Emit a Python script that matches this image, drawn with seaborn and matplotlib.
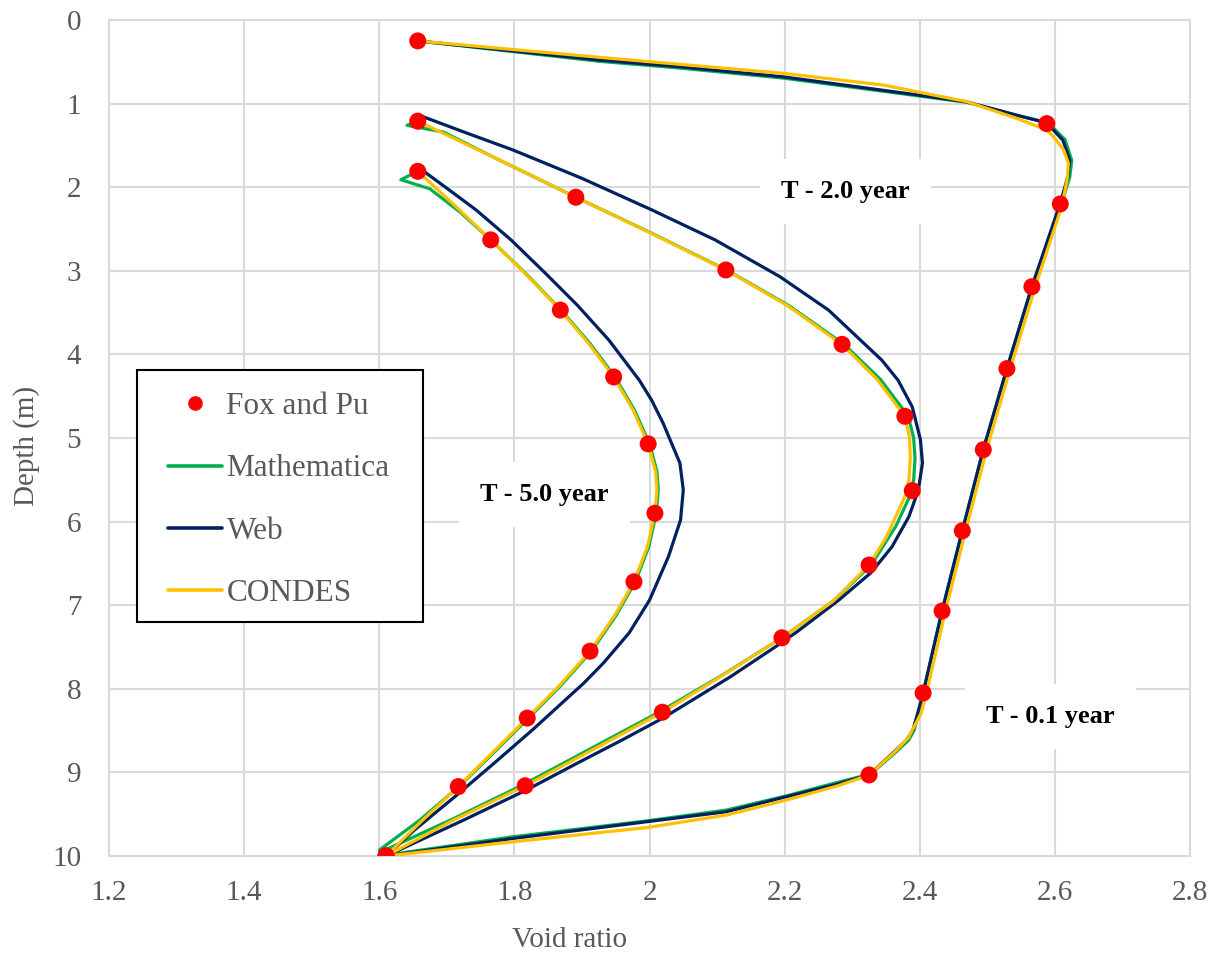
import matplotlib
matplotlib.use("Agg")
import matplotlib.pyplot as plt
import pandas as pd
import seaborn as sns
from matplotlib.lines import Line2D
from matplotlib.patches import Rectangle

sns.set_theme(style="white")
plt.rcParams["font.family"] = ["Liberation Serif", "DejaVu Serif"]

# ---------------- data: void ratio (e) vs depth (z, m) ----------------
# Fox and Pu reference points
fox_t01_e = [1.657, 2.588, 2.608, 2.566, 2.529, 2.494, 2.463, 2.433, 2.405, 2.325, 1.610]
fox_t01_z = [0.25, 1.24, 2.20, 3.19, 4.17, 5.14, 6.11, 7.07, 8.05, 9.03, 10.0]
fox_t2_e = [1.657, 1.891, 2.113, 2.285, 2.378, 2.389, 2.325, 2.196, 2.019, 1.816, 1.610]
fox_t2_z = [1.21, 2.12, 2.99, 3.88, 4.74, 5.63, 6.52, 7.39, 8.28, 9.16, 10.0]
fox_t5_e = [1.657, 1.765, 1.868, 1.947, 1.998, 2.008, 1.977, 1.912, 1.819, 1.717, 1.610]
fox_t5_z = [1.81, 2.63, 3.47, 4.27, 5.07, 5.90, 6.72, 7.55, 8.35, 9.17, 10.0]

# Mathematica solution
math_t01_e = [1.657, 1.927, 2.045, 2.198, 2.400, 2.470, 2.544, 2.590, 2.615, 2.625, 2.622, 2.610,
              2.566, 2.529, 2.494, 2.463, 2.433, 2.405, 2.398, 2.392, 2.384, 2.363, 2.327, 2.278,
              2.203, 2.114, 1.996, 1.798, 1.610]
math_t01_z = [0.25, 0.495, 0.575, 0.695, 0.91, 0.985, 1.14, 1.23, 1.43, 1.68, 1.88, 2.19,
              3.19, 4.17, 5.14, 6.11, 7.07, 8.05, 8.29, 8.49, 8.61, 8.77, 9.02, 9.12,
              9.28, 9.45, 9.58, 9.77, 9.99]
math_t2_e = [1.657, 1.641, 1.695, 1.774, 1.891, 2.003, 2.114, 2.207, 2.288, 2.342, 2.383, 2.391,
             2.393, 2.391, 2.385, 2.365, 2.328, 2.272, 2.196, 2.107, 2.014, 1.912, 1.810, 1.708, 1.603]
math_t2_z = [1.21, 1.26, 1.34, 1.66, 2.12, 2.55, 2.99, 3.42, 3.88, 4.30, 4.74, 5.00,
             5.25, 5.50, 5.70, 6.05, 6.52, 6.95, 7.39, 7.84, 8.28, 8.72, 9.16, 9.56, 9.95]
math_t5_e = [1.657, 1.632, 1.675, 1.720, 1.765, 1.819, 1.869, 1.912, 1.949, 1.978, 2.000, 2.011,
             2.013, 2.010, 1.999, 1.979, 1.950, 1.914, 1.870, 1.821, 1.770, 1.718, 1.660, 1.600]
math_t5_z = [1.81, 1.91, 2.02, 2.30, 2.63, 3.05, 3.47, 3.87, 4.27, 4.67, 5.07, 5.40,
             5.62, 5.90, 6.30, 6.72, 7.13, 7.55, 7.95, 8.35, 8.76, 9.17, 9.57, 9.93]

# Web solution
web_t01_e = [1.657, 1.927, 2.045, 2.198, 2.400, 2.470, 2.544, 2.588, 2.612, 2.622, 2.619, 2.608,
             2.566, 2.529, 2.494, 2.463, 2.433, 2.405, 2.397, 2.390, 2.381, 2.360, 2.325, 2.278,
             2.203, 2.114, 1.996, 1.798, 1.610]
web_t01_z = [0.25, 0.48, 0.56, 0.68, 0.90, 0.98, 1.14, 1.23, 1.44, 1.68, 1.88, 2.19,
             3.19, 4.17, 5.14, 6.11, 7.07, 8.05, 8.29, 8.49, 8.61, 8.77, 9.03, 9.14,
             9.29, 9.47, 9.59, 9.79, 10.0]
web_t2_e = [1.658, 1.724, 1.798, 1.900, 2.003, 2.097, 2.193, 2.265, 2.344, 2.368, 2.389, 2.401,
            2.404, 2.398, 2.384, 2.359, 2.328, 2.280, 2.218, 2.186, 2.119, 2.020, 1.960, 1.893,
            1.818, 1.725, 1.610]
web_t2_z = [1.136, 1.336, 1.555, 1.894, 2.27, 2.63, 3.07, 3.47, 4.07, 4.31, 4.63, 5.02,
            5.30, 5.62, 5.94, 6.30, 6.61, 6.94, 7.32, 7.50, 7.86, 8.35, 8.61, 8.89,
            9.21, 9.57, 10.0]
web_t5_e = [1.660, 1.703, 1.743, 1.795, 1.846, 1.893, 1.940, 1.985, 2.003, 2.020, 2.045, 2.050,
            2.046, 2.028, 2.000, 1.970, 1.932, 1.903, 1.827, 1.770, 1.712, 1.652, 1.610]
web_t5_z = [1.775, 2.03, 2.27, 2.63, 3.03, 3.41, 3.83, 4.31, 4.545, 4.82, 5.30, 5.62,
            5.98, 6.42, 6.94, 7.33, 7.69, 7.93, 8.49, 8.89, 9.29, 9.69, 10.0]

# CONDES solution
condes_t01_e = [1.657, 1.927, 2.198, 2.346, 2.470, 2.543, 2.588, 2.598, 2.613, 2.620, 2.618, 2.610,
                2.571, 2.534, 2.499, 2.468, 2.438, 2.410, 2.402, 2.383, 2.361, 2.325, 2.279,
                2.203, 2.114, 1.996, 1.798, 1.610]
condes_t01_z = [0.25, 0.447, 0.638, 0.778, 0.977, 1.176, 1.316, 1.396, 1.555, 1.714, 1.914, 2.233,
                3.19, 4.17, 5.14, 6.11, 7.07, 8.05, 8.29, 8.59, 8.77, 9.03, 9.16,
                9.33, 9.51, 9.66, 9.83, 10.0]
condes_t2_e = [1.657, 1.774, 1.891, 2.002, 2.113, 2.205, 2.285, 2.337, 2.378, 2.385, 2.386, 2.384,
               2.378, 2.351, 2.325, 2.272, 2.196, 2.108, 2.019, 1.918, 1.816, 1.710, 1.610]
condes_t2_z = [1.21, 1.66, 2.12, 2.55, 2.99, 3.42, 3.88, 4.30, 4.74, 5.00, 5.25, 5.50,
               5.70, 6.18, 6.52, 6.95, 7.39, 7.84, 8.28, 8.72, 9.16, 9.57, 10.0]
condes_t5_e = [1.657, 1.712, 1.765, 1.818, 1.868, 1.910, 1.947, 1.976, 1.998, 2.009, 2.011, 2.008,
               1.997, 1.977, 1.948, 1.912, 1.868, 1.819, 1.768, 1.717, 1.663, 1.610]
condes_t5_z = [1.81, 2.22, 2.63, 3.05, 3.47, 3.87, 4.27, 4.67, 5.07, 5.40, 5.62, 5.90,
               6.30, 6.72, 7.13, 7.55, 7.95, 8.35, 8.76, 9.17, 9.58, 10.0]

models = ["Mathematica", "Web", "CONDES"]
colors = {"Fox and Pu": "#FF0000", "Mathematica": "#00B050", "Web": "#002060", "CONDES": "#FFC000"}
times = ["T - 0.1 year", "T - 2.0 year", "T - 5.0 year"]

curves = {
    ("Mathematica", times[0]): (math_t01_e, math_t01_z),
    ("Mathematica", times[1]): (math_t2_e, math_t2_z),
    ("Mathematica", times[2]): (math_t5_e, math_t5_z),
    ("Web", times[0]): (web_t01_e, web_t01_z),
    ("Web", times[1]): (web_t2_e, web_t2_z),
    ("Web", times[2]): (web_t5_e, web_t5_z),
    ("CONDES", times[0]): (condes_t01_e, condes_t01_z),
    ("CONDES", times[1]): (condes_t2_e, condes_t2_z),
    ("CONDES", times[2]): (condes_t5_e, condes_t5_z),
}
rows = []
for (model, t), (es, zs) in curves.items():
    for i, (e, z) in enumerate(zip(es, zs)):
        rows.append({"model": model, "time": t, "order": i, "e": e, "z": z})
lines_df = pd.DataFrame(rows)

fox_df = pd.DataFrame({
    "e": fox_t01_e + fox_t2_e + fox_t5_e,
    "z": fox_t01_z + fox_t2_z + fox_t5_z,
})

# ---------------- figure ----------------
W, H = 1222, 958
fig = plt.figure(figsize=(W / 100, H / 100), dpi=100)
fig.patch.set_facecolor("white")
L, R, T, B = 109, 1190, 20, 856
ax = fig.add_axes([L / W, 1 - B / H, (R - L) / W, (B - T) / H])

sns.lineplot(data=lines_df, x="e", y="z", hue="model", hue_order=models,
             units="time", estimator=None, sort=False,
             palette=colors, linewidth=2.3, legend=False, ax=ax, zorder=3)
sns.scatterplot(data=fox_df, x="e", y="z", color=colors["Fox and Pu"], s=150,
                edgecolor="none", linewidth=0, legend=False, ax=ax, zorder=5)

ax.set_xlim(1.2, 2.8)
ax.set_ylim(10, 0)
xt = [1.2, 1.4, 1.6, 1.8, 2.0, 2.2, 2.4, 2.6, 2.8]
xt_labels = ["1.2", "1.4", "1.6", "1.8", "2", "2.2", "2.4", "2.6", "2.8"]
ax.set_xticks(xt)
ax.set_xticklabels(xt_labels)
ax.set_yticks(range(0, 11))
ax.grid(True, color="#d9d9d9", linewidth=1.5)
ax.set_axisbelow(True)
for s in ax.spines.values():
    s.set_color("#d9d9d9")
    s.set_linewidth(1.5)

grey = "#595959"
ax.tick_params(axis="both", length=0, labelsize=21, labelcolor=grey)
ax.tick_params(axis="y", pad=20)
ax.tick_params(axis="x", pad=17)

ax.set_xlabel("Void ratio", fontsize=21, color=grey)
ax.set_ylabel("Depth (m)", fontsize=21, color=grey)
ax.xaxis.label.set_va("center")
ax.yaxis.label.set_va("center")
ax.xaxis.set_label_coords(0.4265, -0.1005)
ax.yaxis.set_label_coords(-0.076, 0.49)

# time labels on white boxes
labels_pos = {times[0]: (2.593, 8.33), times[1]: (2.290, 2.05), times[2]: (1.845, 5.68)}
for t, (xe, yz) in labels_pos.items():
    ax.text(xe, yz, t, fontsize=19, fontweight="bold", color="black",
            ha="center", va="center", zorder=4,
            bbox=dict(boxstyle="square,pad=0.8", fc="white", ec="none"))

# legend: black-framed white panel with the four entries
panel = Rectangle((137 / W, 1 - 622 / H), (423 - 137) / W, (622 - 370) / H,
                  transform=fig.transFigure, facecolor="white", edgecolor="black",
                  linewidth=1.5, zorder=6, clip_on=False)
ax.add_patch(panel)

handles = [
    Line2D([], [], linestyle="none", marker="o", markersize=10.5,
           markerfacecolor=colors["Fox and Pu"], markeredgewidth=0),
    Line2D([], [], color=colors["Mathematica"], linewidth=2.6),
    Line2D([], [], color=colors["Web"], linewidth=2.6),
    Line2D([], [], color=colors["CONDES"], linewidth=2.6),
]
leg = ax.legend(handles, ["Fox and Pu", "Mathematica", "Web", "CONDES"],
                loc="upper left", bbox_transform=fig.transFigure,
                bbox_to_anchor=(168 / W, 1 - 392 / H),
                borderaxespad=0, borderpad=0, frameon=False,
                fontsize=22.5, labelcolor=grey,
                handlelength=1.72, handletextpad=0.15, labelspacing=1.07)
leg.set_zorder(7)

fig.savefig("out.png", dpi=100, facecolor="white")
